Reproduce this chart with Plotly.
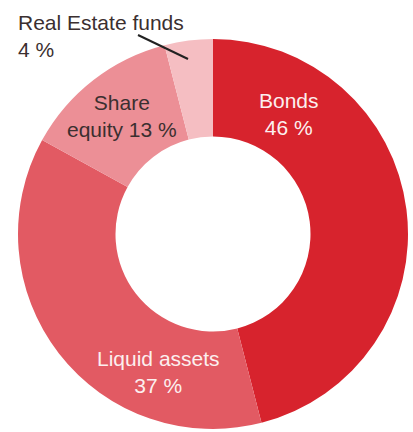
import plotly.graph_objects as go

labels = ["Bonds", "Liquid assets", "Share equity", "Real Estate funds"]
values = [46, 37, 13, 4]
colors = ["#D7232D", "#E25A63", "#EC8F96", "#F5BEC2"]

W, H = 413, 432
cx, cy, r = 213, 234, 195

def px(x):
    return x / W

def py(y):
    return 1 - y / H

fig = go.Figure(go.Pie(
    labels=labels, values=values, sort=False, direction="clockwise", rotation=0,
    hole=0.5, marker=dict(colors=colors, line=dict(width=0)),
    textinfo="none", hoverinfo="label+percent", showlegend=False,
    domain=dict(x=[px(cx - r), px(cx + r)], y=[py(cy + r), py(cy - r)]),
))

font = "Arial, Liberation Sans, sans-serif"
white = "#FCEFEF"
dark = "#3B2F30"
ann = [
    ("Bonds<br>%d %%" % values[0], 289, 114, white, "center"),
    ("Liquid assets<br>%d %%" % values[1], 158, 372, white, "center"),
    ("Share<br>equity %d %%" % values[2], 122, 116, dark, "center"),
    ("Real Estate funds<br>%d %%" % values[3], 16, 36, dark, "left"),
]
annotations = []
for text, x, y, col, al in ann:
    annotations.append(dict(
        text=text, x=px(x), y=py(y), xref="paper", yref="paper",
        xanchor="center" if al == "center" else "left", yanchor="middle",
        align=al, showarrow=False, font=dict(family=font, size=21, color=col),
    ))

fig.update_layout(
    width=W, height=H, margin=dict(l=0, r=0, t=0, b=0),
    paper_bgcolor="white", plot_bgcolor="white",
    annotations=annotations,
    shapes=[dict(type="line", xref="paper", yref="paper",
                 x0=px(138), y0=py(35), x1=px(188), y1=py(59),
                 line=dict(color="#222222", width=2))],
)
fig.write_html("out.html", config={"displayModeBar": False},
               post_script="document.body.style.margin='0';document.body.style.overflow='hidden';")
